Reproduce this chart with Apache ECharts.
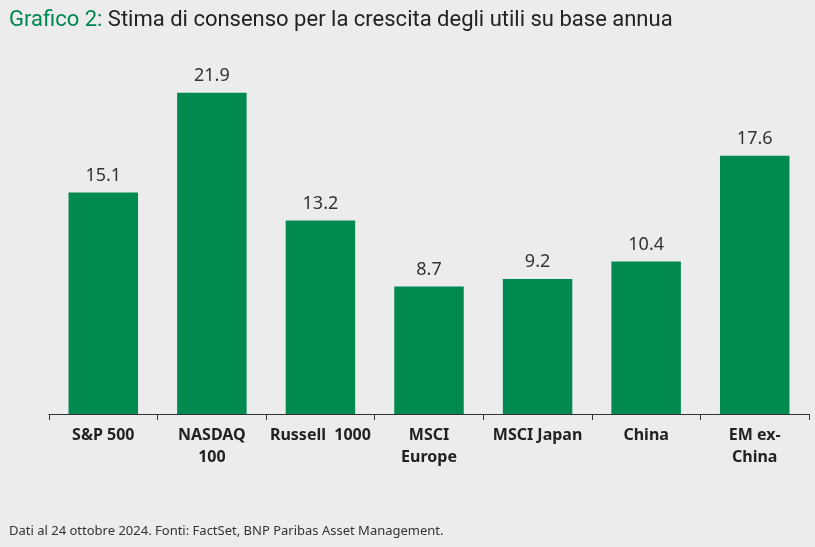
<!DOCTYPE html>
<html>
<head>
<meta charset="utf-8">
<script src="https://cdn.jsdelivr.net/npm/echarts@6/dist/echarts.min.js"></script>
<style>
  html, body { margin: 0; padding: 0; background: #ececec; }
  #chart { width: 815px; height: 547px; }
</style>
</head>
<body>
<div id="chart"></div>
<script>
  var categories = ['S&P 500', 'NASDAQ\n100', 'Russell  1000', 'MSCI\nEurope', 'MSCI Japan', 'China', 'EM ex-\nChina'];
  var growth = [15.1, 21.9, 13.2, 8.7, 9.2, 10.4, 17.6];

  var myChart = echarts.init(document.getElementById('chart'));
  var options = {
    backgroundColor: '#ececec',
    animation: false,
    title: [{
      left: 4, top: 4,
      text: '{g|Grafico 2:} Stima di consenso per la crescita degli utili su base annua',
      textStyle: {
        fontFamily: 'Roboto', fontSize: 22, fontWeight: 'normal', color: '#222',
        rich: { g: { fontFamily: 'Roboto', fontSize: 22, color: '#00874f' } }
      }
    }, {
      left: 4, top: 520,
      text: 'Dati al 24 ottobre 2024. Fonti: FactSet, BNP Paribas Asset Management.',
      textStyle: { fontFamily: 'Noto Sans', fontSize: 13, fontWeight: 'normal', color: '#333' }
    }],
    grid: { left: 49, right: 6, top: 62, bottom: 133 },
    xAxis: {
      type: 'category',
      data: categories,
      axisLine: { lineStyle: { color: '#333', width: 1 } },
      axisTick: { show: true, length: 6, lineStyle: { color: '#333' } },
      axisLabel: {
        color: '#222', fontFamily: 'Noto Sans', fontSize: 16, fontWeight: 'bold',
        lineHeight: 22, margin: 10, interval: 0
      }
    },
    yAxis: { type: 'value', min: 0, max: 24, show: false, splitLine: { show: false } },
    series: [{
      type: 'bar',
      data: growth,
      barWidth: '64%',
      itemStyle: { color: '#008a50' },
      label: {
        show: true, position: 'top', distance: 8,
        color: '#333', fontFamily: 'Noto Sans', fontSize: 18
      }
    }]
  };
  myChart.setOption(options);
</script>
</body>
</html>
